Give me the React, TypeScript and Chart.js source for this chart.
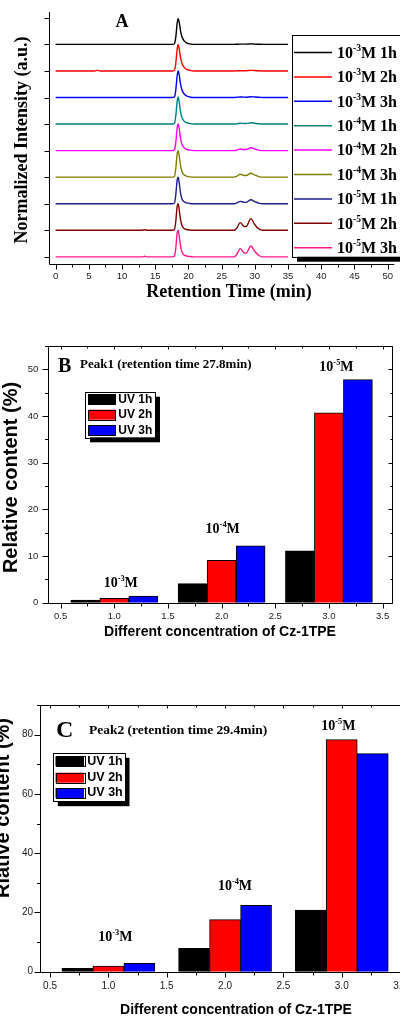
import React, { useEffect, useRef } from 'react';
import { Chart, registerables } from 'chart.js';

Chart.register(...registerables);

const SERIF = "'Liberation Serif', 'Times New Roman', serif";
const SANS = "'Liberation Sans', Arial, sans-serif";

// ---------- Panel A : chromatograms ----------
const retentionTime = [0, 5.9, 6.3, 6.7, 13.0, 13.4, 13.8, 17.6, 17.9, 18.1, 18.3, 18.45, 18.6, 18.8, 19.0, 19.3, 19.7, 20.2, 20.8, 26.9, 27.3, 27.8, 28.3, 28.7, 29.4, 30.0, 30.6, 31.2, 35];

const trace_e3_1h = [0, 0, 0, 0, 0, 0, 0, 0, 0.03, 0.28, 0.8, 0.97, 0.85, 0.52, 0.3, 0.15, 0.06, 0.02, 0, 0, 0.005, 0.01, 0.01, 0.01, 0.02, 0.01, 0.005, 0, 0];
const trace_e3_2h = [0, 0, 0.02, 0, 0, 0, 0, 0, 0.03, 0.3, 0.82, 1.0, 0.86, 0.52, 0.3, 0.15, 0.06, 0.02, 0, 0, 0.005, 0.01, 0.01, 0.01, 0.02, 0.015, 0.005, 0, 0];
const trace_e3_3h = [0, 0, 0, 0, 0, 0, 0, 0, 0.03, 0.3, 0.82, 1.0, 0.86, 0.52, 0.3, 0.15, 0.06, 0.02, 0, 0, 0.01, 0.02, 0.015, 0.01, 0.03, 0.02, 0.01, 0, 0];
const trace_e4_1h = [0, 0, 0, 0, 0, 0, 0, 0, 0.03, 0.32, 0.86, 1.02, 0.84, 0.48, 0.26, 0.12, 0.05, 0.02, 0, 0, 0.01, 0.03, 0.02, 0.02, 0.05, 0.03, 0.01, 0, 0];
const trace_e4_2h = [0, 0, 0, 0, 0, 0, 0, 0, 0.03, 0.32, 0.86, 1.0, 0.84, 0.48, 0.26, 0.12, 0.05, 0.02, 0, 0, 0.02, 0.06, 0.04, 0.04, 0.11, 0.06, 0.02, 0, 0];
const trace_e4_3h = [0, 0, 0, 0, 0, 0, 0, 0, 0.03, 0.34, 0.88, 1.0, 0.82, 0.45, 0.22, 0.1, 0.04, 0.01, 0, 0, 0.04, 0.11, 0.07, 0.06, 0.15, 0.08, 0.02, 0, 0];
const trace_e5_1h = [0, 0, 0, 0, 0, 0, 0, 0, 0.03, 0.35, 0.9, 1.0, 0.8, 0.42, 0.2, 0.08, 0.03, 0.01, 0, 0, 0.03, 0.09, 0.06, 0.05, 0.15, 0.08, 0.02, 0, 0];
const trace_e5_2h = [0, 0, 0, 0, 0, 0.02, 0, 0, 0.03, 0.35, 0.9, 1.0, 0.8, 0.42, 0.2, 0.08, 0.03, 0.01, 0, 0, 0.09, 0.29, 0.16, 0.14, 0.44, 0.21, 0.05, 0, 0];
const trace_e5_3h = [0, 0, 0, 0, 0, 0.02, 0, 0, 0.03, 0.35, 0.9, 1.0, 0.8, 0.42, 0.2, 0.08, 0.03, 0.01, 0, 0, 0.1, 0.31, 0.17, 0.14, 0.41, 0.2, 0.05, 0, 0];

const traceValues = [trace_e3_1h, trace_e3_2h, trace_e3_3h, trace_e4_1h, trace_e4_2h, trace_e4_3h, trace_e5_1h, trace_e5_2h, trace_e5_3h];
const traceColors = ['#000000', '#ff0000', '#0000ff', '#008080', '#ff00ff', '#808000', '#1f1f8f', '#800000', '#ff1a8c'];
const traceExponents = ['-3', '-3', '-3', '-4', '-4', '-4', '-5', '-5', '-5'];
const traceHours = ['1h', '2h', '3h', '1h', '2h', '3h', '1h', '2h', '3h'];
const traceOffsets = [8, 7, 6, 5, 4, 3, 2, 1, 0];
const retentionTicks = [0, 5, 10, 15, 20, 25, 30, 35, 40, 45, 50];
const retentionMinorTicks = [2.5, 7.5, 12.5, 17.5, 22.5, 27.5, 32.5, 37.5, 42.5, 47.5];
const intensityTicks = [0, 1, 2, 3, 4, 5, 6, 7, 8, 9];

// ---------- Panels B & C : bar charts ----------
const concentrationPos = [1, 2, 3];
const concentrationExp = ['-3', '-4', '-5'];
const uvLabels = ['UV 1h', 'UV 2h', 'UV 3h'];
const uvColors = ['#000000', '#ff0000', '#0000ff'];

const peak1_uv1h = [0.55, 4.1, 11.1];
const peak1_uv2h = [0.95, 9.1, 40.7];
const peak1_uv3h = [1.4, 12.2, 47.8];
const peak2_uv1h = [1.1, 7.9, 20.8];
const peak2_uv2h = [1.9, 17.6, 78.3];
const peak2_uv3h = [2.8, 22.4, 73.6];

const concTicks = [0.5, 1.0, 1.5, 2.0, 2.5, 3.0, 3.5];
const concMinorTicks = [0.75, 1.25, 1.75, 2.25, 2.75, 3.25];
const peak1Ticks = [0, 10, 20, 30, 40, 50];
const peak1MinorTicks = [5, 15, 25, 35, 45, 55];
const peak2Ticks = [0, 20, 40, 60, 80];
const peak2MinorTicks = [10, 30, 50, 70, 90];

const peak1AnnotX = [1.06, 2.01, 3.07];
const peak1AnnotY = [4.4, 16.0, 50.6];
const peak2AnnotX = [1.06, 2.085, 2.97];
const peak2AnnotY = [11.8, 29.2, 83.1];

// ---------- drawing helpers ----------
const snap = (v: number) => Math.round(v) + 0.5;

function seg(ctx: CanvasRenderingContext2D, x1: number, y1: number, x2: number, y2: number) {
  ctx.beginPath();
  ctx.moveTo(x1, y1);
  ctx.lineTo(x2, y2);
  ctx.stroke();
}

// draws "10^exp" + rest with a superscript, centred vertically on y
function drawPower(ctx: CanvasRenderingContext2D, x: number, y: number, exp: string, rest: string, size: number, align: 'left' | 'center') {
  const sup = size * 0.6;
  const parts: [string, number, number][] = [
    ['10', size, 0],
    [exp, sup, size * 0.42],
    [rest, size, 0],
  ];
  let w = 0;
  for (const [t, s] of parts) {
    ctx.font = `bold ${s}px ${SERIF}`;
    w += ctx.measureText(t).width;
  }
  let cx = align === 'center' ? x - w / 2 : x;
  const base = y + size * 0.33;
  ctx.textAlign = 'left';
  ctx.textBaseline = 'alphabetic';
  ctx.fillStyle = '#000';
  for (const [t, s, rise] of parts) {
    ctx.font = `bold ${s}px ${SERIF}`;
    ctx.fillText(t, cx, base - rise);
    cx += ctx.measureText(t).width;
  }
}

function drawText(ctx: CanvasRenderingContext2D, text: string, x: number, y: number, font: string, align: CanvasTextAlign, rotate = 0) {
  ctx.save();
  ctx.translate(x, y);
  if (rotate) ctx.rotate(rotate);
  ctx.font = font;
  ctx.fillStyle = '#000';
  ctx.textAlign = align;
  ctx.textBaseline = 'middle';
  ctx.fillText(text, 0, 0);
  ctx.restore();
}

function shadowBox(ctx: CanvasRenderingContext2D, x: number, y: number, w: number, h: number, off: number) {
  ctx.fillStyle = '#000';
  ctx.fillRect(x + off, y + off, w, h);
  ctx.fillStyle = '#fff';
  ctx.fillRect(x, y, w, h);
  ctx.strokeStyle = '#000';
  ctx.lineWidth = 1;
  ctx.strokeRect(snap(x), snap(y), Math.round(w), Math.round(h));
}

// ---------- Panel A config ----------
const decorA = {
  id: 'decorA',
  afterDraw(chart: any) {
    const { ctx, chartArea: a, scales } = chart;
    const x = scales.x, y = scales.y;
    ctx.save();
    ctx.strokeStyle = '#000';
    ctx.lineWidth = 1;
    const L = snap(a.left), B = snap(a.bottom);
    seg(ctx, L, a.top, L, B);
    seg(ctx, L, B, a.right, B);
    intensityTicks.forEach((v) => { const py = snap(y.getPixelForValue(v)); seg(ctx, L - 5, py, L, py); });
    retentionTicks.forEach((v) => { const px = snap(x.getPixelForValue(v)); seg(ctx, px, B, px, B + 5); });
    retentionMinorTicks.forEach((v) => { const px = snap(x.getPixelForValue(v)); seg(ctx, px, B, px, B + 3); });

    // legend
    shadowBox(ctx, 292, 35, 130, 221.7, 5);
    traceColors.forEach((c, i) => {
      const ry = 52.5 + 24.4 * i;
      ctx.strokeStyle = c;
      ctx.lineWidth = 1.5;
      seg(ctx, 294, ry, 332, ry);
      drawPower(ctx, 337, ry, traceExponents[i], 'M ' + traceHours[i], 16, 'left');
    });

    drawText(ctx, 'A', 122, 22.5, `bold 18px ${SERIF}`, 'center');
    drawText(ctx, 'Retention Time (min)', 229, 292.5, `bold 18px ${SERIF}`, 'center');
    drawText(ctx, 'Normalized Intensity (a.u.)', 22.5, 140, `bold 18px ${SERIF}`, 'center', -Math.PI / 2);
    ctx.restore();
  },
};

function configA(): any {
  return {
    type: 'line',
    data: {
      datasets: traceValues.map((vals, i) => ({
        label: '10' + traceExponents[i] + 'M ' + traceHours[i],
        data: retentionTime.map((t, j) => ({ x: t, y: traceOffsets[i] + vals[j] })),
        borderColor: traceColors[i],
        borderWidth: 1.4,
        pointRadius: 0,
        fill: false,
        cubicInterpolationMode: 'monotone',
      })),
    },
    options: {
      animation: false,
      responsive: false,
      devicePixelRatio: 1,
      events: [],
      layout: { padding: { left: 0, top: 12, right: 3, bottom: 11 } },
      plugins: { legend: { display: false }, tooltip: { enabled: false } },
      scales: {
        x: {
          type: 'linear',
          min: -1,
          max: 51,
          afterFit: (s: any) => { s.height = 30; },
          afterBuildTicks: (s: any) => { s.ticks = retentionTicks.map((v) => ({ value: v })); },
          grid: { display: false, drawTicks: false },
          border: { display: false },
          ticks: { autoSkip: false, maxRotation: 0, padding: 7, color: '#222', font: { family: SANS, size: 9.5 }, callback: (v: any) => String(v) },
        },
        y: {
          type: 'linear',
          min: -0.27,
          max: 9.22,
          afterFit: (s: any) => { s.width = 49; },
          grid: { display: false, drawTicks: false },
          border: { display: false },
          ticks: { display: false },
        },
      },
    },
    plugins: [decorA],
  };
}

// ---------- Panels B / C config ----------
type BarPanel = {
  series: number[][];
  xMin: number; xMax: number;
  yMax: number; yTicks: number[]; yMinor: number[];
  pad: { left: number; top: number; right: number; bottom: number };
  yWidth: number; barPx: number;
  tickSize: number; yLabelPad: number; xLabelPad: number;
  annotX: number[]; annotY: number[];
  letter: string; letterSize: number; letterX: number; letterY: number;
  peakText: string; peakSize: number; peakX: number; peakY: number;
  legend: { x: number; y: number; w: number; h: number; off: number; rows: number[]; swX: number; swW: number; swH: number; textX: number; textSize: number };
  yTitle: string; yTitleX: number; yTitleY: number;
  xTitleX: number; xTitleY: number;
};

function configBar(p: BarPanel): any {
  const decor = {
    id: 'decorBar',
    afterDraw(chart: any) {
      const { ctx, chartArea: a, scales } = chart;
      const x = scales.x, y = scales.y;
      ctx.save();
      ctx.strokeStyle = '#000';
      ctx.lineWidth = 1;
      const L = snap(a.left), R = snap(a.right), T = snap(a.top), B = snap(a.bottom);
      seg(ctx, L, T, R, T); seg(ctx, R, T, R, B); seg(ctx, L, B, R, B); seg(ctx, L, T, L, B);
      concTicks.forEach((v) => { const px = snap(x.getPixelForValue(v)); seg(ctx, px, B, px, B + 5); seg(ctx, px, T, px, T + 3); });
      concMinorTicks.forEach((v) => { const px = snap(x.getPixelForValue(v)); seg(ctx, px, B, px, B + 3); seg(ctx, px, T, px, T + 2); });
      p.yTicks.forEach((v) => { const py = snap(y.getPixelForValue(v)); seg(ctx, L - 6, py, L, py); seg(ctx, R - 4, py, R, py); });
      p.yMinor.forEach((v) => { const py = snap(y.getPixelForValue(v)); seg(ctx, L - 3.5, py, L, py); seg(ctx, R - 2, py, R, py); });

      // group annotations
      concentrationExp.forEach((e, i) => {
        drawPower(ctx, x.getPixelForValue(p.annotX[i]), y.getPixelForValue(p.annotY[i]), e, 'M', 14, 'center');
      });

      // legend
      const lg = p.legend;
      shadowBox(ctx, lg.x, lg.y, lg.w, lg.h, lg.off);
      uvLabels.forEach((lab, i) => {
        const ry = lg.rows[i];
        ctx.fillStyle = uvColors[i];
        ctx.fillRect(lg.swX, ry - lg.swH / 2, lg.swW, lg.swH);
        ctx.strokeStyle = '#000';
        ctx.lineWidth = 1;
        ctx.strokeRect(snap(lg.swX), snap(ry - lg.swH / 2), Math.round(lg.swW), Math.round(lg.swH));
        drawText(ctx, lab, lg.textX, ry, `bold ${lg.textSize}px ${SANS}`, 'left');
      });

      drawText(ctx, p.letter, p.letterX, p.letterY, `bold ${p.letterSize}px ${SERIF}`, 'left');
      drawText(ctx, p.peakText, p.peakX, p.peakY, `bold ${p.peakSize}px ${SERIF}`, 'left');
      drawText(ctx, p.yTitle, p.yTitleX, p.yTitleY, `bold 20px ${SANS}`, 'center', -Math.PI / 2);
      drawText(ctx, 'Different concentration of Cz-1TPE', p.xTitleX, p.xTitleY, `bold 14px ${SANS}`, 'center');
      ctx.restore();
    },
  };
  return {
    type: 'bar',
    data: {
      datasets: p.series.map((vals, i) => ({
        label: uvLabels[i],
        data: concentrationPos.map((c, j) => ({ x: c, y: vals[j] })),
        backgroundColor: uvColors[i],
        borderColor: '#000000',
        borderWidth: 1,
        barThickness: p.barPx,
      })),
    },
    options: {
      animation: false,
      responsive: false,
      devicePixelRatio: 1,
      events: [],
      layout: { padding: p.pad },
      plugins: { legend: { display: false }, tooltip: { enabled: false } },
      scales: {
        x: {
          type: 'linear',
          offset: false,
          min: p.xMin,
          max: p.xMax,
          afterFit: (s: any) => { s.height = 30; },
          afterBuildTicks: (s: any) => { s.ticks = concTicks.map((v) => ({ value: v })); },
          grid: { display: false, offset: false, drawTicks: false },
          border: { display: false },
          ticks: { autoSkip: false, maxRotation: 0, padding: p.xLabelPad, color: '#222', font: { family: SANS, size: p.tickSize }, callback: (v: any) => Number(v).toFixed(1) },
        },
        y: {
          type: 'linear',
          min: 0,
          max: p.yMax,
          afterFit: (s: any) => { s.width = p.yWidth; },
          afterBuildTicks: (s: any) => { s.ticks = p.yTicks.map((v) => ({ value: v })); },
          grid: { display: false, drawTicks: false },
          border: { display: false },
          ticks: { padding: p.yLabelPad, color: '#222', font: { family: SANS, size: p.tickSize }, callback: (v: any) => String(v) },
        },
      },
    },
    plugins: [decor],
  };
}

const panelB: BarPanel = {
  series: [peak1_uv1h, peak1_uv2h, peak1_uv3h],
  xMin: 0.385, xMax: 3.585,
  yMax: 55, yTicks: peak1Ticks, yMinor: peak1MinorTicks,
  pad: { left: 0, top: 41, right: 8.3, bottom: 7.3 },
  yWidth: 48.3, barPx: 29,
  tickSize: 9.5, yLabelPad: 10, xLabelPad: 8.3,
  annotX: peak1AnnotX, annotY: peak1AnnotY,
  letter: 'B', letterSize: 20, letterX: 58, letterY: 61.7,
  peakText: 'Peak1 (retention time 27.8min)', peakSize: 13, peakX: 80, peakY: 60,
  legend: { x: 85, y: 86.7, w: 70, h: 45.6, off: 5, rows: [94.3, 109.7, 125.2], swX: 88.3, swW: 27, swH: 10, textX: 118.3, textSize: 12 },
  yTitle: 'Relative content (%)', yTitleX: 11, yTitleY: 172.5,
  xTitleX: 220, xTitleY: 327,
};

const panelC: BarPanel = {
  series: [peak2_uv1h, peak2_uv2h, peak2_uv3h],
  xMin: 0.414, xMax: 3.614,
  yMax: 90, yTicks: peak2Ticks, yMinor: peak2MinorTicks,
  pad: { left: 0, top: 65, right: 6.6, bottom: 14.3 },
  yWidth: 40, barPx: 31,
  tickSize: 10, yLabelPad: 7, xLabelPad: 9,
  annotX: peak2AnnotX, annotY: peak2AnnotY,
  letter: 'C', letterSize: 24, letterX: 56, letterY: 91,
  peakText: 'Peak2 (retention time 29.4min)', peakSize: 13.5, peakX: 89, peakY: 90.7,
  legend: { x: 53.3, y: 113.3, w: 71.7, h: 48.4, off: 4.5, rows: [121.3, 137.7, 153], swX: 55.5, swW: 28.5, swH: 10, textX: 87.3, textSize: 12.5 },
  yTitle: 'Rlative content (%)', yTitleX: 3, yTitleY: 168,
  xTitleX: 236, xTitleY: 370,
};

export default function App() {
  const aRef = useRef<HTMLCanvasElement>(null);
  const bRef = useRef<HTMLCanvasElement>(null);
  const cRef = useRef<HTMLCanvasElement>(null);

  useEffect(() => {
    const charts = [
      new Chart(aRef.current as HTMLCanvasElement, configA()),
      new Chart(bRef.current as HTMLCanvasElement, configBar(panelB)),
      new Chart(cRef.current as HTMLCanvasElement, configBar(panelC)),
    ];
    return () => charts.forEach((c) => c.destroy());
  }, []);

  return (
    <div style={{ position: 'absolute', left: 0, top: 0, width: 400, height: 1016, overflow: 'hidden', background: '#ffffff' }}>
      <canvas ref={aRef} width={400} height={305} style={{ position: 'absolute', left: 0, top: 0, width: 400, height: 305 }} />
      <canvas ref={bRef} width={400} height={335} style={{ position: 'absolute', left: 0, top: 305, width: 400, height: 335 }} />
      <canvas ref={cRef} width={420} height={376} style={{ position: 'absolute', left: 0, top: 640, width: 420, height: 376 }} />
    </div>
  );
}
